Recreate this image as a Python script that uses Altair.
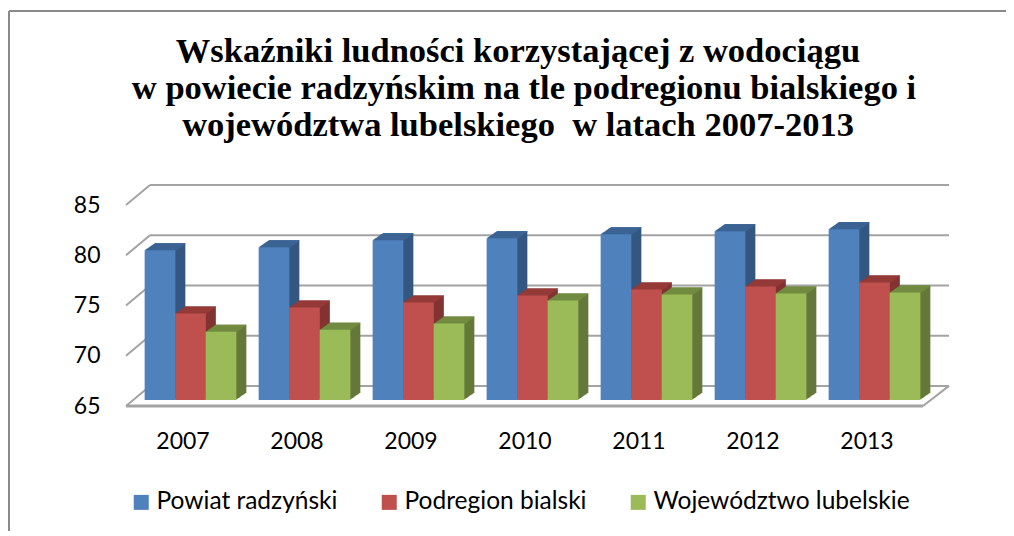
import altair as alt
import pandas as pd

years = ["2007", "2008", "2009", "2010", "2011", "2012", "2013"]
powiat = [79.9, 80.2, 80.9, 81.1, 81.5, 81.8, 82.0]
podregion = [73.6, 74.2, 74.7, 75.4, 76.0, 76.3, 76.7]
wojewodztwo = [71.8, 72.0, 72.6, 74.9, 75.5, 75.6, 75.7]
names = ["Powiat radzyński", "Podregion bialski", "Województwo lubelskie"]
front = ["#4f81bd", "#c0504d", "#9bbb59"]
top = ["#3c6595", "#963b39", "#738d42"]
side = ["#345880", "#823331", "#647a39"]
grid_values = [65, 70, 75, 80, 85]
title_lines = [
    "Wskaźniki ludności korzystającej z wodociągu",
    "w powiecie radzyńskim na tle podregionu bialskiego i",
    "województwa lubelskiego \u00a0w latach 2007-2013",
]
title_x = [392, 398, 392]
title_y = [-143, -106, -69]

PW, PH = 798, 201
FONT = "Lato"
GREY = "#a3a3a3"

x_enc = alt.X("year:N", sort=years,
              scale=alt.Scale(paddingInner=0, paddingOuter=0),
              axis=alt.Axis(title=None, ticks=False, domain=False, grid=False, labelAngle=0,
                            labelFont=FONT, labelFontSize=23, labelColor="#000000", labelPadding=24))
y_scale = alt.Scale(domain=[65, 85], nice=False, zero=False)
y_axis = alt.Axis(title=None, values=grid_values, ticks=False, domain=False, grid=False,
                  labelFont=FONT, labelFontSize=23, labelColor="#000000", labelPadding=26)
y_enc = alt.Y("v:Q", scale=y_scale, axis=y_axis)

grid_df = pd.DataFrame({"v": grid_values, "v2": [g + 2 for g in grid_values]})
layers = []
# back grid lines
layers.append(alt.Chart(grid_df).mark_rule(color=GREY, strokeWidth=2, yOffset=-20)
              .encode(y=y_enc, x=alt.value(24), x2=alt.value(823)))
# left diagonals
layers.append(alt.Chart(grid_df).mark_rule(color=GREY, strokeWidth=2)
              .encode(y=y_enc, y2="v2:Q", x=alt.value(0), x2=alt.value(24)))
# floor front edge and right diagonal
floor = grid_df[grid_df.v == 65]
layers.append(alt.Chart(floor).mark_rule(color=GREY, strokeWidth=3)
              .encode(y=y_enc, x=alt.value(0), x2=alt.value(797)))
layers.append(alt.Chart(floor).mark_rule(color=GREY, strokeWidth=2)
              .encode(y=y_enc, y2="v2:Q", x=alt.value(797), x2=alt.value(823)))

offsets = [-23, 7.5, 38]
width = 30.7
DEPTH = 10
for name, vals, f, t, s, off in zip(names, [powiat, podregion, wojewodztwo], front, top, side, offsets):
    df = pd.DataFrame({"year": years, "v": vals, "base": [65] * 7, "series": [name] * 7,
                       "cap": [x - 0.1 for x in vals]})
    for i in range(DEPTH, 0, -1):
        dy = -6 - 0.7 * i
        layers.append(alt.Chart(df).mark_bar(width=width, color=s, xOffset=off + i, yOffset=dy, y2Offset=dy)
                      .encode(x=x_enc, y=y_enc, y2="base:Q"))
    for i in range(DEPTH, 0, -1):
        dy = -6 - 0.7 * i
        layers.append(alt.Chart(df).mark_bar(width=width, color=t, xOffset=off + i, yOffset=dy, y2Offset=dy)
                      .encode(x=x_enc, y=y_enc, y2="cap:Q"))
    layers.append(alt.Chart(df).mark_bar(width=width, xOffset=off, yOffset=-6, y2Offset=-6).encode(
        x=x_enc, y=y_enc, y2="base:Q",
        color=alt.Color("series:N", sort=names,
                        scale=alt.Scale(domain=names, range=front),
                        legend=alt.Legend(title=None, orient="none", legendX=3, legendY=285,
                                          direction="horizontal", symbolType="square", symbolSize=225,
                                          symbolStrokeWidth=0, labelFont=FONT, labelFontSize=24.5,
                                          labelColor="#000000", columnPadding=39, labelOffset=3,
                                          padding=0, labelLimit=400, columns=3))))

# title lines
for line, tx, ty in zip(title_lines, title_x, title_y):
    layers.append(alt.Chart(pd.DataFrame({"t": [line]}))
                  .mark_text(font="Liberation Serif", fontSize=34.5, fontWeight="bold", color="#000000",
                             align="center", baseline="alphabetic")
                  .encode(text="t:N", x=alt.value(tx), y=alt.value(ty)))

# outer frame, top and left
one = pd.DataFrame({"v": [1]})
layers.append(alt.Chart(one).mark_rule(color="#8a8a8a", strokeWidth=2)
              .encode(x=alt.value(-117), x2=alt.value(880), y=alt.value(-194)))
layers.append(alt.Chart(one).mark_rule(color="#8a8a8a", strokeWidth=2)
              .encode(x=alt.value(-117), y=alt.value(-194), y2=alt.value(330)))

chart = alt.layer(*layers).properties(
    width=PW, height=PH, background="white",
    autosize=alt.AutoSizeParams(type="none"),
    padding={"left": 118, "top": 197, "right": 82, "bottom": 125},
).configure_view(stroke=None)

chart.save("out.html", embed_options={"renderer": "svg", "actions": False})
